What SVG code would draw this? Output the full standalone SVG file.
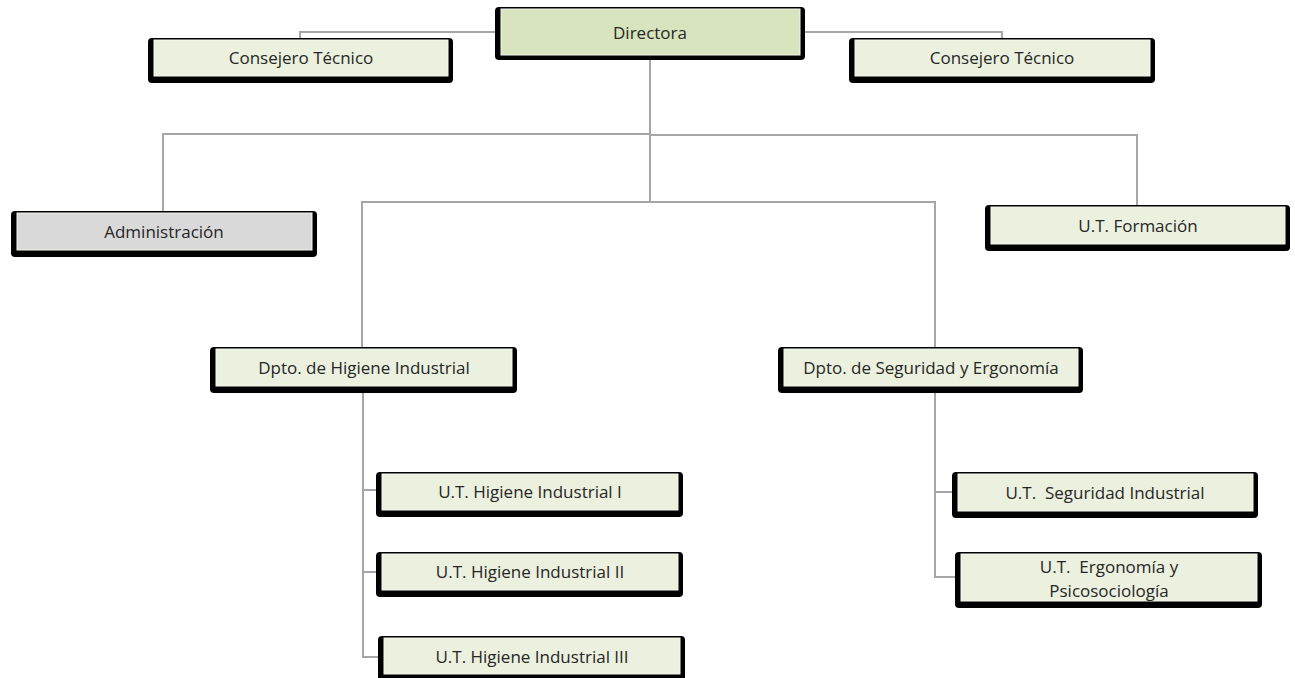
<svg xmlns="http://www.w3.org/2000/svg" width="1295" height="678" viewBox="0 0 1295 678">
<style>
.sh{fill:#000}
.bx{fill:#ebf1de;stroke:#f4f7ee;stroke-width:1}
.dir{fill:#d7e4bd}
.adm{fill:#d9d9d9}
.t{font-family:"Open Sans","Liberation Sans",sans-serif;font-size:17px;fill:#262626;text-anchor:middle;white-space:pre}
.c{fill:none;stroke:#a6a6a6;stroke-width:2}
</style>
<rect width="1295" height="678" fill="#fff"/>
<g id="connectors">
<polyline class="c" points="500,32 300,32 300,39"/>
<polyline class="c" points="800,32 1002,32 1002,39"/>
<line class="c" x1="650" y1="55" x2="650" y2="202"/>
<polyline class="c" points="650,134 163,134 163,211"/>
<polyline class="c" points="650,135 1137,135 1137,206"/>
<polyline class="c" points="362,348 362,202 935,202 935,348"/>
<polyline class="c" points="363,388 363,657 380,657"/>
<line class="c" x1="363" y1="490" x2="380" y2="490"/>
<line class="c" x1="363" y1="572" x2="380" y2="572"/>
<polyline class="c" points="935,388 935,577 958,577"/>
<line class="c" x1="935" y1="492" x2="958" y2="492"/>
</g>
<g id="directora">
<rect class="sh" x="495" y="7" width="310" height="53" rx="4"/>
<rect class="bx dir" x="501" y="9" width="299" height="46"/>
<text class="t" x="650" y="39">Directora</text>
</g>
<g id="consejero-izq">
<rect class="sh" x="148" y="38" width="305" height="45" rx="4"/>
<rect class="bx" x="154" y="40" width="294" height="36"/>
<text class="t" x="301" y="64">Consejero Técnico</text>
</g>
<g id="consejero-der">
<rect class="sh" x="849" y="38" width="306" height="45" rx="4"/>
<rect class="bx" x="855" y="40" width="295" height="36"/>
<text class="t" x="1002" y="64">Consejero Técnico</text>
</g>
<g id="administracion">
<rect class="sh" x="11" y="211" width="306" height="46" rx="4"/>
<rect class="bx adm" x="17" y="213" width="295" height="37"/>
<text class="t" x="164" y="238">Administración</text>
</g>
<g id="formacion">
<rect class="sh" x="985" y="205" width="305" height="46" rx="4"/>
<rect class="bx" x="991" y="207" width="294" height="37"/>
<text class="t" x="1138" y="232">U.T. Formación</text>
</g>
<g id="dpto-higiene">
<rect class="sh" x="210" y="347" width="307" height="46" rx="4"/>
<rect class="bx" x="216" y="349" width="296" height="37"/>
<text class="t" x="364" y="374">Dpto. de Higiene Industrial</text>
</g>
<g id="dpto-seguridad">
<rect class="sh" x="778" y="347" width="305" height="46" rx="4"/>
<rect class="bx" x="784" y="349" width="294" height="37"/>
<text class="t" x="931" y="374">Dpto. de Seguridad y Ergonomía</text>
</g>
<g id="ut-higiene-1">
<rect class="sh" x="376" y="472" width="307" height="45" rx="4"/>
<rect class="bx" x="382" y="474" width="296" height="36"/>
<text class="t" x="530" y="498">U.T. Higiene Industrial I</text>
</g>
<g id="ut-higiene-2">
<rect class="sh" x="376" y="552" width="307" height="45" rx="4"/>
<rect class="bx" x="382" y="554" width="296" height="36"/>
<text class="t" x="530" y="578">U.T. Higiene Industrial II</text>
</g>
<g id="ut-higiene-3">
<rect class="sh" x="378" y="636" width="307" height="45" rx="4"/>
<rect class="bx" x="384" y="638" width="296" height="36"/>
<text class="t" x="532" y="663">U.T. Higiene Industrial III</text>
</g>
<g id="ut-seguridad">
<rect class="sh" x="952" y="472" width="306" height="46" rx="4"/>
<rect class="bx" x="958" y="474" width="295" height="37"/>
<text class="t" x="1105" y="499">U.T.  Seguridad Industrial</text>
</g>
<g id="ut-ergonomia">
<rect class="sh" x="955" y="552" width="307" height="56" rx="4"/>
<rect class="bx" x="961" y="554" width="296" height="47"/>
<text class="t" x="1109" y="573">U.T.  Ergonomía y</text>
<text class="t" x="1109" y="597">Psicosociología</text>
</g>
</svg>
